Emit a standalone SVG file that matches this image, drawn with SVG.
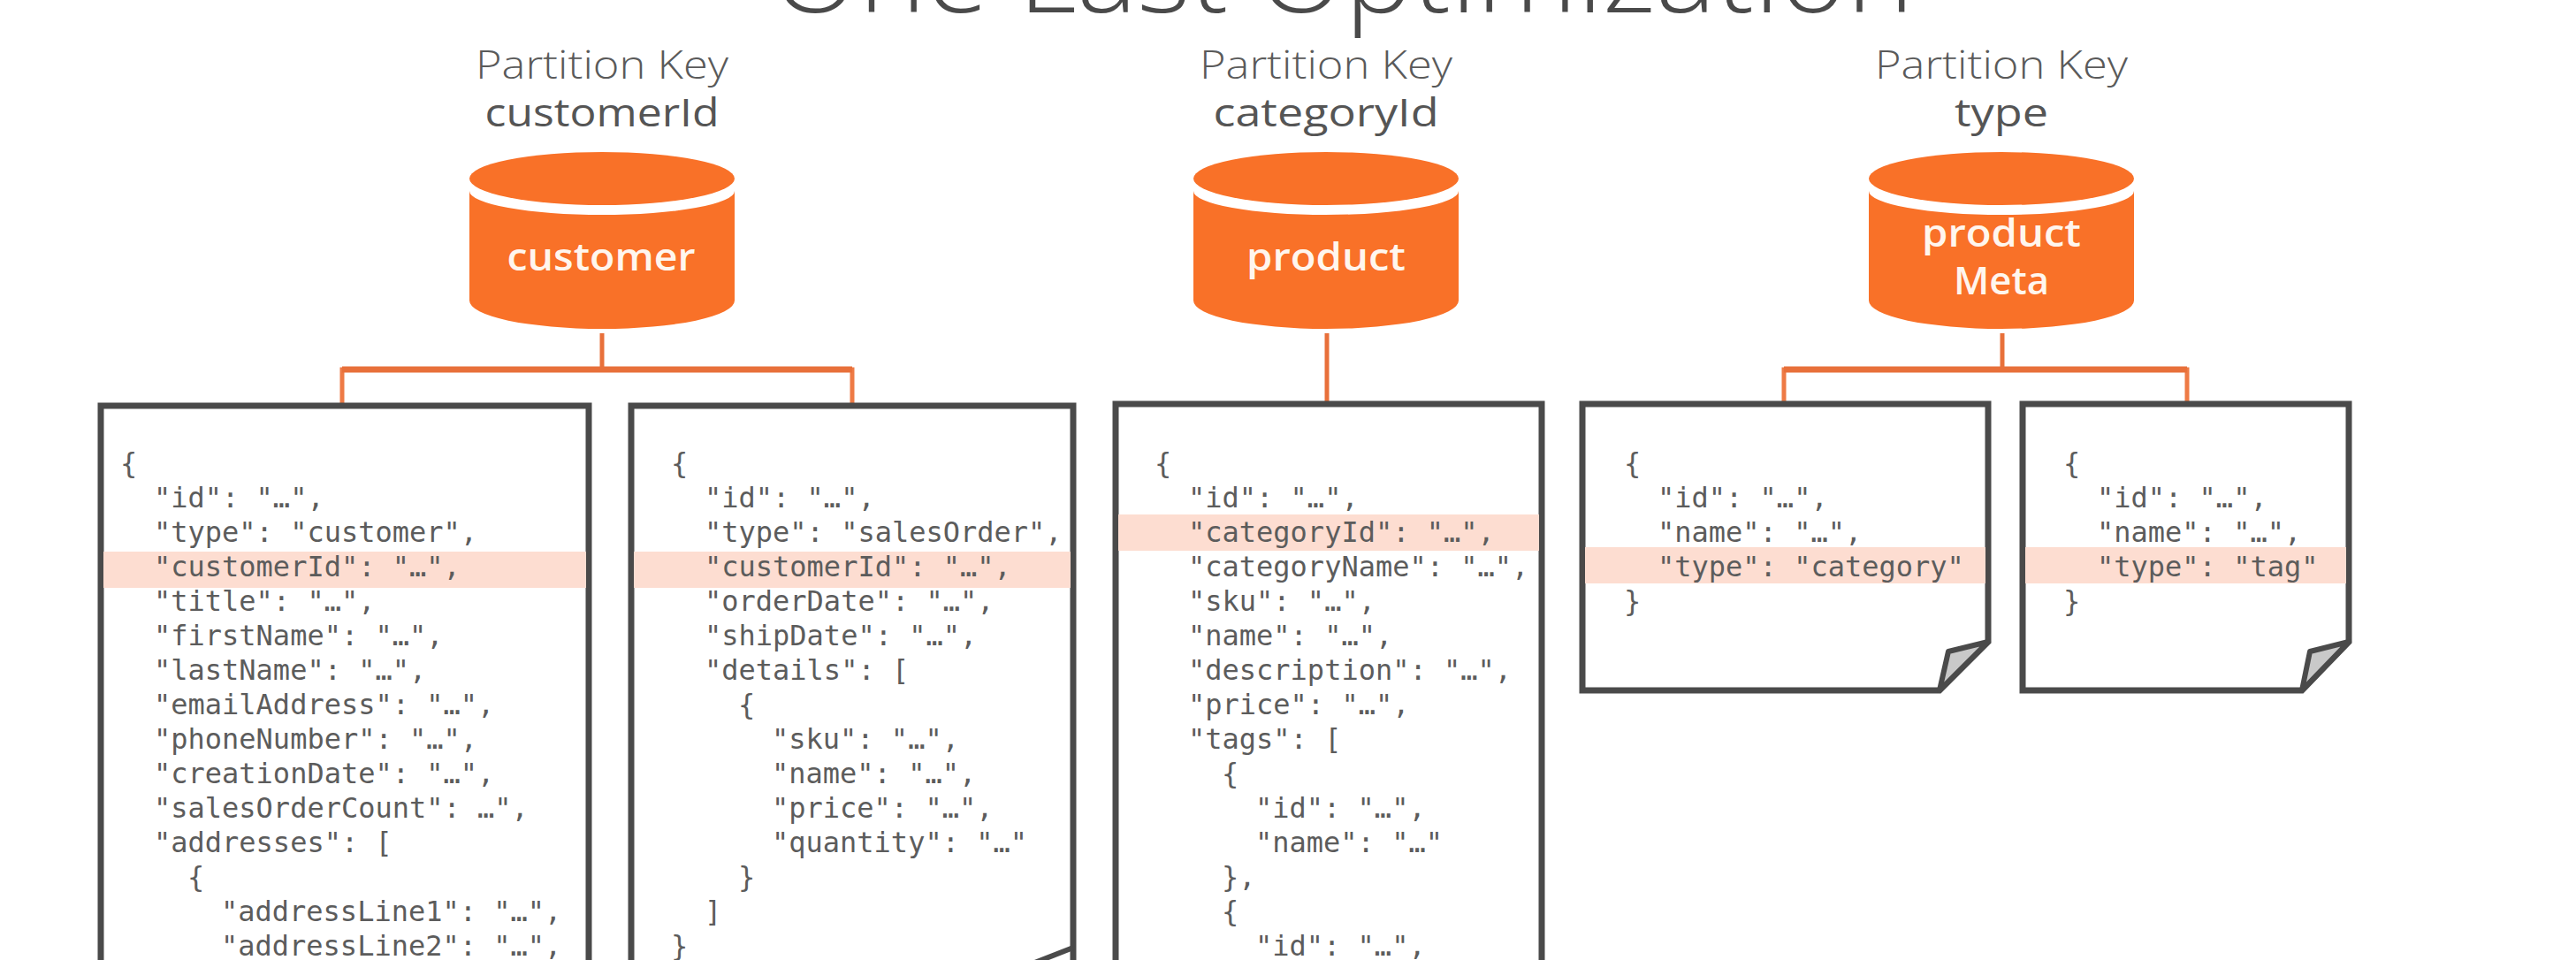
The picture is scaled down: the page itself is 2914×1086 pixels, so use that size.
<svg xmlns="http://www.w3.org/2000/svg" width="2914" height="1086" viewBox="0 0 2914 1086">
<style>
.title{font-family:"Open Sans","Lato",sans-serif;font-weight:300;font-size:122px;fill:#4a4a4a}
.pk{font-family:"Open Sans","Lato",sans-serif;font-weight:300;font-size:44px;fill:#5a5a5a;text-anchor:middle}
.pv{font-family:"Open Sans","Lato",sans-serif;font-weight:400;font-size:44px;fill:#555;text-anchor:middle}
.cy{font-family:"Open Sans","Lato",sans-serif;font-weight:600;font-size:44px;fill:#fff6ee;text-anchor:middle}
.c{font-family:"DejaVu Sans Mono","Liberation Mono",monospace;font-size:32px;fill:#5c5c5c}
.doc{fill:#fff;stroke:#4a4a4a;stroke-width:7;stroke-linejoin:miter}
.hl{fill:#fdddd1}
.cn{fill:none;stroke:#e8703a;stroke-width:5}
.bar{fill:none;stroke:#ee7a45;stroke-width:5}
.top{fill:none;stroke:#e8703a;stroke-width:7}
.fold{fill:#c9c9c9;stroke:#4a4a4a;stroke-width:6;stroke-linejoin:round}
.edge{fill:none;stroke:#4a4a4a;stroke-width:6}
</style>
<defs>
<g id="cyl">
<ellipse cx="0" cy="202" rx="150" ry="30" fill="#f97128"/>
<path d="M-150,216 A150,27 0 0 0 150,216 V340 A150,32 0 0 1 -150,340 Z" fill="#f97128"/>
</g>
</defs>
<rect width="2914" height="1086" fill="#fff"/>
<text class="title" x="873" y="14" textLength="1292" lengthAdjust="spacingAndGlyphs">One Last Optimization</text>

<g id="connectors">
<path class="cn" d="M681,377V418"/>
<path class="bar" d="M387,457V418H964V457"/>
<path class="top" d="M387,418H964"/>
<path class="cn" d="M1501,377V457"/>
<path class="cn" d="M2265,377V418"/>
<path class="bar" d="M2018,457V418H2474V457"/>
<path class="top" d="M2018,418H2474"/>
</g>

<g id="customer-label"><text class="pk" x="681" y="89" textLength="286" lengthAdjust="spacingAndGlyphs">Partition Key</text><text class="pv" x="681" y="143" textLength="265" lengthAdjust="spacingAndGlyphs">customerId</text></g>
<g id="customer"><use href="#cyl" x="681"/><text class="cy" x="680" y="306" textLength="213" lengthAdjust="spacingAndGlyphs">customer</text></g>
<g id="product-label"><text class="pk" x="1500" y="89" textLength="286" lengthAdjust="spacingAndGlyphs">Partition Key</text><text class="pv" x="1500" y="143" textLength="255" lengthAdjust="spacingAndGlyphs">categoryId</text></g>
<g id="product"><use href="#cyl" x="1500"/><text class="cy" x="1500" y="306" textLength="180" lengthAdjust="spacingAndGlyphs">product</text></g>
<g id="productMeta-label"><text class="pk" x="2264" y="89" textLength="286" lengthAdjust="spacingAndGlyphs">Partition Key</text><text class="pv" x="2264" y="143" textLength="106" lengthAdjust="spacingAndGlyphs">type</text></g>
<g id="productMeta"><use href="#cyl" x="2264"/><text class="cy" x="2264" y="279" textLength="180" lengthAdjust="spacingAndGlyphs">product</text><text class="cy" x="2264" y="333" textLength="108" lengthAdjust="spacingAndGlyphs">Meta</text></g>

<g id="doc-customer">
<path class="doc" d="M114,1100V459H666V1100"/>
<rect class="hl" x="117" y="624" width="546" height="41"/>
<text class="c" x="136" y="535">{</text>
<text class="c" x="174" y="574">"id": "…",</text>
<text class="c" x="174" y="613">"type": "customer",</text>
<text class="c" x="174" y="652">"customerId": "…",</text>
<text class="c" x="174" y="691">"title": "…",</text>
<text class="c" x="174" y="730">"firstName": "…",</text>
<text class="c" x="174" y="769">"lastName": "…",</text>
<text class="c" x="174" y="808">"emailAddress": "…",</text>
<text class="c" x="174" y="847">"phoneNumber": "…",</text>
<text class="c" x="174" y="886">"creationDate": "…",</text>
<text class="c" x="174" y="925">"salesOrderCount": …",</text>
<text class="c" x="174" y="964">"addresses": [</text>
<text class="c" x="212" y="1003">{</text>
<text class="c" x="250" y="1042">"addressLine1": "…",</text>
<text class="c" x="250" y="1081">"addressLine2": "…",</text>
</g>

<g id="doc-salesOrder">
<path class="doc" d="M714,1100V459H1214V1100"/>
<path class="edge" d="M1214,1072L1168,1090"/>
<rect class="hl" x="717" y="624" width="494" height="41"/>
<text class="c" x="759" y="535">{</text>
<text class="c" x="797" y="574">"id": "…",</text>
<text class="c" x="797" y="613">"type": "salesOrder",</text>
<text class="c" x="797" y="652">"customerId": "…",</text>
<text class="c" x="797" y="691">"orderDate": "…",</text>
<text class="c" x="797" y="730">"shipDate": "…",</text>
<text class="c" x="797" y="769">"details": [</text>
<text class="c" x="835" y="808">{</text>
<text class="c" x="873" y="847">"sku": "…",</text>
<text class="c" x="873" y="886">"name": "…",</text>
<text class="c" x="873" y="925">"price": "…",</text>
<text class="c" x="873" y="964">"quantity": "…"</text>
<text class="c" x="835" y="1003">}</text>
<text class="c" x="797" y="1042">]</text>
<text class="c" x="759" y="1081">}</text>
</g>

<g id="doc-product">
<path class="doc" d="M1262,1100V457H1744V1100"/>
<rect class="hl" x="1265" y="582" width="476" height="41"/>
<text class="c" x="1306" y="535">{</text>
<text class="c" x="1344" y="574">"id": "…",</text>
<text class="c" x="1344" y="613">"categoryId": "…",</text>
<text class="c" x="1344" y="652">"categoryName": "…",</text>
<text class="c" x="1344" y="691">"sku": "…",</text>
<text class="c" x="1344" y="730">"name": "…",</text>
<text class="c" x="1344" y="769">"description": "…",</text>
<text class="c" x="1344" y="808">"price": "…",</text>
<text class="c" x="1344" y="847">"tags": [</text>
<text class="c" x="1382" y="886">{</text>
<text class="c" x="1420" y="925">"id": "…",</text>
<text class="c" x="1420" y="964">"name": "…"</text>
<text class="c" x="1382" y="1003">},</text>
<text class="c" x="1382" y="1042">{</text>
<text class="c" x="1420" y="1081">"id": "…",</text>
</g>

<g id="doc-category">
<path class="doc" d="M1790,781V457H2249V726L2194,781Z"/>
<rect class="hl" x="1793" y="619" width="453" height="41"/>
<path class="fold" d="M2249,726L2204,737L2194,781Z"/>
<text class="c" x="1837" y="535">{</text>
<text class="c" x="1875" y="574">"id": "…",</text>
<text class="c" x="1875" y="613">"name": "…",</text>
<text class="c" x="1875" y="652">"type": "category"</text>
<text class="c" x="1837" y="691">}</text>
</g>

<g id="doc-tag">
<path class="doc" d="M2288,781V457H2657V726L2604,781Z"/>
<rect class="hl" x="2291" y="619" width="363" height="41"/>
<path class="fold" d="M2657,726L2613,737L2604,781Z"/>
<text class="c" x="2334" y="535">{</text>
<text class="c" x="2372" y="574">"id": "…",</text>
<text class="c" x="2372" y="613">"name": "…",</text>
<text class="c" x="2372" y="652">"type": "tag"</text>
<text class="c" x="2334" y="691">}</text>
</g>
</svg>
